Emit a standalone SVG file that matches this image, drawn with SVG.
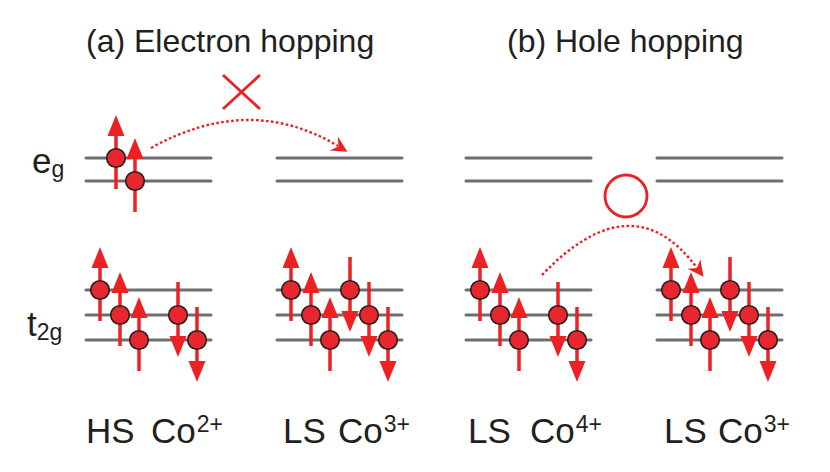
<svg xmlns="http://www.w3.org/2000/svg" width="830" height="472" viewBox="0 0 830 472">
<defs>
<style>
text{font-family:"Liberation Sans",Arial,sans-serif;fill:#231f20}
.t{font-size:32px}
.lab{font-size:35px}
.sup{font-size:23px}
.lvl{stroke:#6d6e70;stroke-width:3;stroke-linecap:round;fill:none}
.shaft{stroke:#ed2024;stroke-width:3.5;fill:none}
.head{fill:#ed2024}
.el{fill:#e8262d;stroke:#231f20;stroke-width:1.6}
.dot{stroke:#ed2024;stroke-width:2.4;stroke-dasharray:2.6 2.4;fill:none}
.mark{stroke:#ed2024;stroke-width:2.8;fill:none}
</style>
<g id="eu">
<line class="shaft" x1="0" y1="31" x2="0" y2="-25"/>
<polygon class="head" points="0,-43 -8.5,-22 8.5,-22"/>
<circle class="el" cx="0" cy="0" r="9.3"/>
</g>
<g id="ed">
<line class="shaft" x1="0" y1="-33" x2="0" y2="24"/>
<polygon class="head" points="0,42 -8.5,21 8.5,21"/>
<circle class="el" cx="0" cy="0" r="9.3"/>
</g>
</defs>
<rect width="830" height="472" fill="#ffffff"/>

<g id="title-a"><text class="t" x="86" y="52">(a) Electron hopping</text></g>
<g id="title-b"><text class="t" x="507" y="52">(b) Hole hopping</text></g>

<g id="label-eg"><text x="32" y="173" font-size="35">e<tspan font-size="23" dy="4">g</tspan></text></g>
<g id="label-t2g"><text x="27" y="336" font-size="35">t<tspan font-size="23" dy="4">2g</tspan></text></g>

<g id="hs-co2">
<path class="lvl" d="M86 158H211M86 181H211M86 290H211M86 315H211M86 340H211"/>
<use href="#eu" x="116" y="158"/>
<use href="#eu" x="135" y="181"/>
<use href="#eu" x="100" y="290"/>
<use href="#eu" x="120" y="315"/>
<use href="#eu" x="139" y="340"/>
<use href="#ed" x="178" y="315"/>
<use href="#ed" x="197" y="340"/>
</g>

<g id="ls-co3-a">
<path class="lvl" d="M277 158H402M277 181H402M277 290H402M277 315H402M277 340H402"/>
<use href="#eu" x="291" y="290"/>
<use href="#eu" x="311" y="315"/>
<use href="#eu" x="330" y="340"/>
<use href="#ed" x="350" y="290"/>
<use href="#ed" x="369" y="315"/>
<use href="#ed" x="388" y="340"/>
</g>

<g id="ls-co4">
<path class="lvl" d="M466 158H591M466 181H591M466 290H591M466 315H591M466 340H591"/>
<use href="#eu" x="480" y="290"/>
<use href="#eu" x="500" y="315"/>
<use href="#eu" x="519" y="340"/>
<use href="#ed" x="558" y="315"/>
<use href="#ed" x="577" y="340"/>
</g>

<g id="ls-co3-b">
<path class="lvl" d="M657 158H782M657 181H782M657 290H782M657 315H782M657 340H782"/>
<use href="#eu" x="671" y="290"/>
<use href="#eu" x="691" y="315"/>
<use href="#eu" x="710" y="340"/>
<use href="#ed" x="730" y="290"/>
<use href="#ed" x="749" y="315"/>
<use href="#ed" x="768" y="340"/>
</g>

<g id="connectors">
<path class="dot" d="M151 148Q249.5 93 338 146"/>
<polygon class="head" points="347.4,151.7 329.6,150.4 338.4,146.4 337.8,136.6"/>
<path class="dot" d="M542 275Q632.5 180.5 697 268"/>
<polygon class="head" points="703.5,276.8 687.6,268.7 697,268 700.4,259.2"/>
</g>

<g id="forbidden-mark"><path class="mark" d="M223 75L260 109M260 75L223 109"/></g>
<g id="allowed-mark"><circle class="mark" cx="626" cy="196" r="21"/></g>

<g id="label-hs-co2"><text class="lab" y="443"><tspan x="86">HS</tspan><tspan x="151">Co</tspan><tspan class="sup" dx="1" dy="-11">2+</tspan></text></g>
<g id="label-ls-co3-a"><text class="lab" y="443"><tspan x="283">LS</tspan><tspan x="338">Co</tspan><tspan class="sup" dx="1" dy="-11">3+</tspan></text></g>
<g id="label-ls-co4"><text class="lab" y="443"><tspan x="468">LS</tspan><tspan x="530">Co</tspan><tspan class="sup" dx="1" dy="-11">4+</tspan></text></g>
<g id="label-ls-co3-b"><text class="lab" y="443"><tspan x="664">LS</tspan><tspan x="718">Co</tspan><tspan class="sup" dx="1" dy="-11">3+</tspan></text></g>
</svg>
